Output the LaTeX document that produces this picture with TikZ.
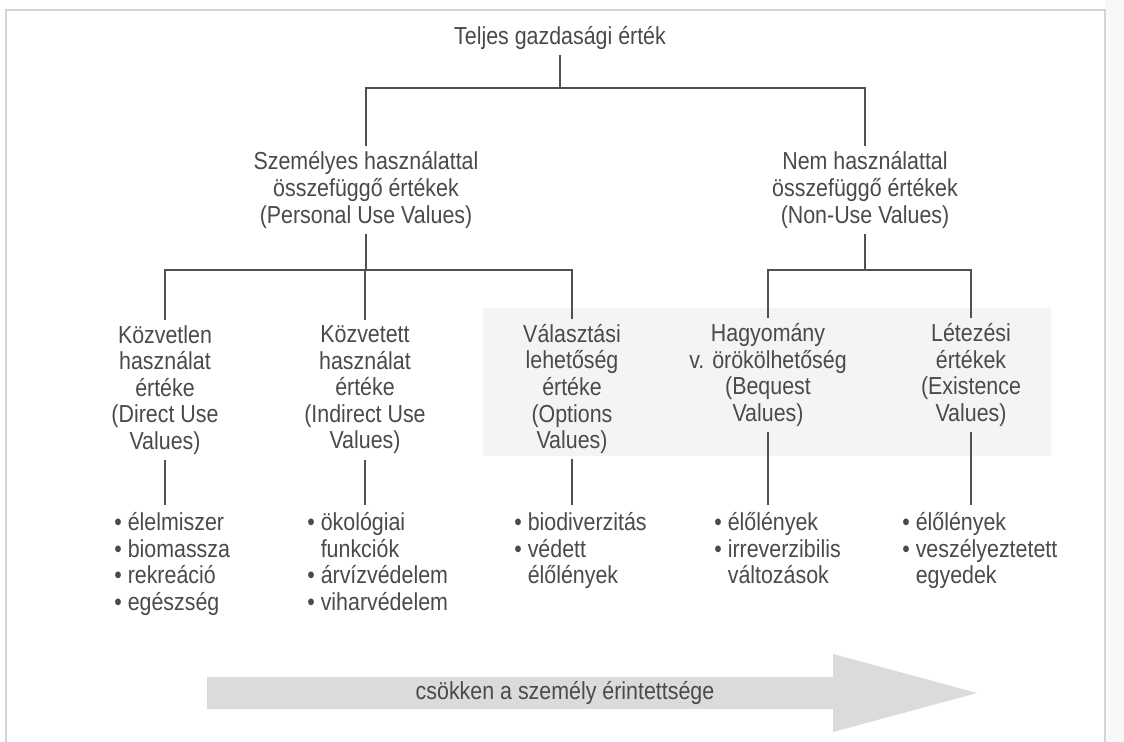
\documentclass[tikz,border=0pt]{standalone}
\usepackage{fontspec}
\setmainfont{Liberation Sans}[FakeStretch=0.87]
\definecolor{inkc}{HTML}{4A4A4A}
\definecolor{linec}{HTML}{505050}
\definecolor{framec}{HTML}{D4D4D4}
\definecolor{arrowc}{HTML}{DBDBDB}
\definecolor{patchc}{HTML}{F4F4F4}
\begin{document}
\begin{tikzpicture}[x=0.02cm, y=-0.02cm,
  every node/.style={font=\fontsize{14}{15.1}\selectfont, text=inkc},
  lbl/.style={align=center, inner xsep=0pt, inner ysep=3pt},
  lst/.style={align=left, anchor=north west, inner xsep=0pt, inner ysep=4pt},
  conn/.style={draw=linec, line width=1.1pt}]
\useasboundingbox (0,0) rectangle (1124,742);
\fill[white] (0,0) rectangle (1124,742);

% page frame and the neighbouring page edge
\fill[patchc!60] (1105,0) rectangle (1124,742);
\draw[framec, line width=0.8pt] (6,760) -- (6,10) -- (1105,10) -- (1105,760);

% light band behind the non-use columns
\fill[patchc] (483,308) rectangle (1051,456);

% hierarchy
\node[lbl] (title) at (560,38) {Teljes gazdasági érték};

\node[lbl] (personal) at (366,190) {Személyes használattal\\összefüggő értékek\\(Personal Use Values)};
\node[lbl] (nonuse) at (865,190) {Nem használattal\\összefüggő értékek\\(Non-Use Values)};

\node[lbl] (direct) at (165,390) {Közvetlen\\használat\\értéke\\(Direct Use\\Values)};
\node[lbl] (indirect) at (365,390) {Közvetett\\használat\\értéke\\(Indirect Use\\Values)};
\node[lbl] (options) at (572,389) {Választási\\lehetőség\\értéke\\(Options\\Values)};
\node[lbl] (bequest) at (768,375) {Hagyomány\\v. örökölhetőség\\(Bequest\\Values)};
\node[lbl] (existence) at (971,375) {Létezési\\értékek\\(Existence\\Values)};

% example lists
\node[lst] (ldirect) at (114,505) {• élelmiszer\\• biomassza\\• rekreáció\\• egészség};
\node[lst] (lindirect) at (307,505) {• ökológiai\\\hphantom{• }funkciók\\• árvízvédelem\\• viharvédelem};
\node[lst] (loptions) at (514,505) {• biodiverzitás\\• védett\\\hphantom{• }élőlények};
\node[lst] (lbequest) at (714,505) {• élőlények\\• irreverzibilis\\\hphantom{• }változások};
\node[lst] (lexistence) at (902,505) {• élőlények\\• veszélyeztetett\\\hphantom{• }egyedek};

% tree connectors
\coordinate (bar0) at (0,88);
\coordinate (bar1) at (0,270);
\draw[conn] (title.south) -- (title.south |- bar0);
\draw[conn] (personal.north) |- (title.south |- bar0) -| (nonuse.north);

\draw[conn] (personal.south) -- (personal.south |- bar1);
\draw[conn] (direct.north) |- (personal.south |- bar1) -| (options.north);
\draw[conn] (indirect.north) -- (indirect.north |- bar1);

\draw[conn] (nonuse.south) -- (nonuse.south |- bar1);
\draw[conn] (bequest.north) |- (nonuse.south |- bar1) -| (existence.north);

\draw[conn] (direct.south) -- (direct.south |- ldirect.north);
\draw[conn] (indirect.south) -- (indirect.south |- lindirect.north);
\draw[conn] (options.south) -- (options.south |- loptions.north);
\draw[conn] (bequest.south) -- (bequest.south |- lbequest.north);
\draw[conn] (existence.south) -- (existence.south |- lexistence.north);

% direction arrow
\fill[arrowc] (207,677) -- (833,677) -- (833,654) -- (977,693) -- (833,732)
  -- (833,709) -- (207,709) -- cycle;
\node[lbl] (trend) at (565,693) {csökken a személy érintettsége};
\end{tikzpicture}
\end{document}
